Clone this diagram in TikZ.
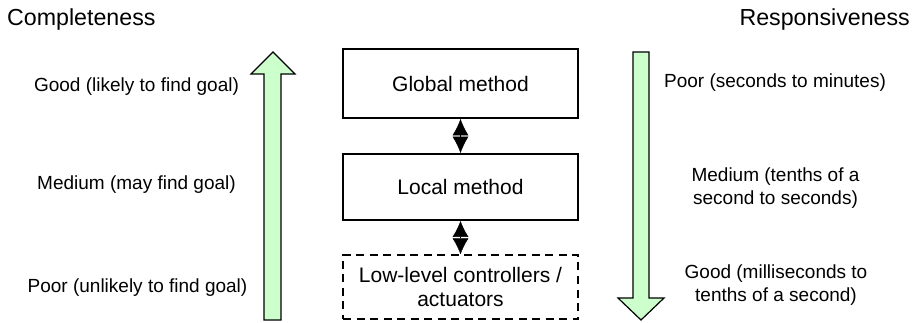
\documentclass[tikz,border=0pt]{standalone}
\usepackage{fontspec}
\setmainfont{Liberation Sans}
\usepackage{xcolor}
\usetikzlibrary{arrows.meta}
\definecolor{palegreen}{RGB}{204,255,204}

\begin{document}
\begin{tikzpicture}[x=1pt, y=-1pt,
  font=\fontsize{19}{22.5}\selectfont,
  method/.style={draw, fill=white, line width=1.8pt, minimum width=235pt,
    align=center, font=\fontsize{21}{23.5}\selectfont},
  side/.style={align=center},
  heading/.style={inner sep=0pt, font=\fontsize{23.2}{26}\selectfont},
  bigarrow/.style={draw, fill=palegreen, line width=1.2pt, line join=miter}]
\useasboundingbox (0,0) rectangle (916,323);

% headings
\node[heading, anchor=base west] at (7,26) (completeness) {Completeness};
\node[heading, anchor=base east] at (910,26) (responsiveness) {Responsiveness};

% left column
\node[side, anchor=base] at (136.5,92) (cgood) {Good (likely to find goal)};
\node[side, anchor=base] at (136.5,190) (cmedium) {Medium (may find goal)};
\node[side, anchor=base] at (137.5,292) (cpoor) {Poor (unlikely to find goal)};

% right column
\node[side, anchor=base] at (775,88) (rpoor) {Poor (seconds to minutes)};
\node[side] at (775.5,188) (rmedium) {Medium (tenths of a\\second to seconds)};
\node[side] at (776,285) (rgood) {Good (milliseconds to\\tenths of a second)};

% the two wide arrows
\draw[bigarrow] (264,320) -- (264,74) -- (251,74) -- (273,52) -- (295,74)
  -- (281,74) -- (281,320) -- cycle;
\draw[bigarrow] (633,52) -- (633,298) -- (618,298) -- (641,320) -- (664,298)
  -- (649,298) -- (649,52) -- cycle;

% the methods
\node[method, minimum height=69pt] at (460.5,83.5) (global) {Global method};
\node[method, minimum height=66pt] at (460.5,187) (local) {Local method};
\node[method, dashed, dash pattern=on 8pt off 5.5pt, line width=1.4pt,
  minimum height=64pt] at (460.5,287) (lowlevel) {Low-level controllers /\\actuators};

\path[<->, >={Latex[length=16.5pt, width=16pt]}] (global) edge (local);
\path[<->, >={Latex[length=16pt, width=16pt]}] (local) edge (lowlevel);

\end{tikzpicture}
\end{document}
